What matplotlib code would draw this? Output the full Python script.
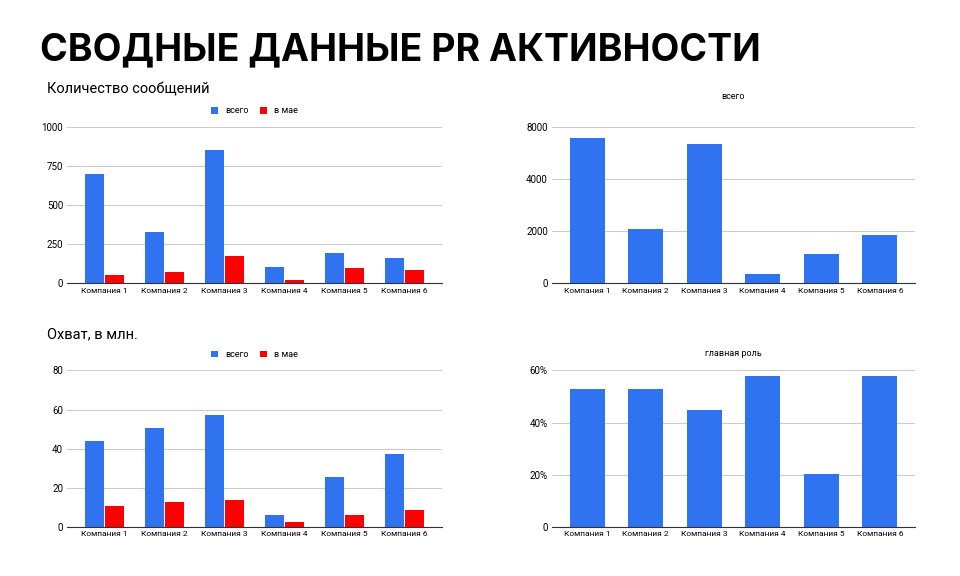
import matplotlib
matplotlib.use("Agg")
import matplotlib.pyplot as plt
import numpy as np

companies = ["Компания 1", "Компания 2", "Компания 3", "Компания 4", "Компания 5", "Компания 6"]
msg_total = [700, 331, 853, 102, 191, 159]
msg_may = [51, 70, 172, 19, 96, 83]
total_all = [5550, 2100, 5320, 370, 1130, 1870]
reach_total = [44.0, 50.8, 57.4, 6.4, 25.6, 37.4]
reach_may = [10.8, 12.8, 13.8, 2.6, 6.2, 8.7]
main_role = [53, 53, 45, 58, 20.4, 58]

BLUE = "#2f73f1"
RED = "#ff0000"
plt.rcParams["font.family"] = "Roboto"

fig = plt.figure(figsize=(9.6, 5.76), dpi=100)
fig.text(0.042, 0.912, "СВОДНЫЕ ДАННЫЕ PR АКТИВНОСТИ", fontsize=27, fontweight="bold", va="center", family="Inter")
fig.text(0.049, 0.845, "Количество сообщений", fontsize=10.5, va="center")
fig.text(0.049, 0.42, "Охват, в млн.", fontsize=10.5, va="center")

def style(ax, ylim, ticks, labels, xlim):
    ax.set_ylim(*ylim)
    ax.set_yticks(ticks)
    ax.set_yticklabels(labels, fontsize=7)
    ax.set_xticks(np.arange(6))
    ax.set_xticklabels(companies, fontsize=6)
    ax.set_xlim(*xlim)
    ax.tick_params(length=0, pad=3)
    for s in ["top", "right", "left"]:
        ax.spines[s].set_visible(False)
    ax.spines["bottom"].set_color("#333333")
    ax.grid(axis="y", color="#cccccc", lw=0.8)
    ax.set_axisbelow(True)

x = np.arange(6)
w = 0.31
# top left
ax1 = fig.add_axes([0.07, 0.508, 0.39, 0.272])
ax1.bar(x - w/2 - 0.01, msg_total, w, color=BLUE, label="всего")
ax1.bar(x + w/2 + 0.01, msg_may, w, color=RED, label="в мае")
style(ax1, (0, 1000), [0, 250, 500, 750, 1000], ["0", "250", "500", "750", "1000"], (-0.62, 5.62))
ax1.legend(loc="lower center", bbox_to_anchor=(0.5, 1.02), ncol=2, frameon=False, fontsize=6.5, handlelength=0.8, handleheight=0.8, columnspacing=1.2)

# top right
ax2 = fig.add_axes([0.575, 0.508, 0.378, 0.272])
ax2.bar(x, total_all, 0.6, color=BLUE)
style(ax2, (0, 6000), [0, 2000, 4000, 6000], ["0", "2000", "4000", "8000"], (-0.6, 5.6))
ax2.set_title("всего", fontsize=6.5, pad=20)

# bottom left
ax3 = fig.add_axes([0.07, 0.085, 0.39, 0.272])
ax3.bar(x - w/2 - 0.01, reach_total, w, color=BLUE, label="всего")
ax3.bar(x + w/2 + 0.01, reach_may, w, color=RED, label="в мае")
style(ax3, (0, 80), [0, 20, 40, 60, 80], ["0", "20", "40", "60", "80"], (-0.62, 5.62))
ax3.legend(loc="lower center", bbox_to_anchor=(0.5, 1.02), ncol=2, frameon=False, fontsize=6.5, handlelength=0.8, handleheight=0.8, columnspacing=1.2)

# bottom right
ax4 = fig.add_axes([0.575, 0.085, 0.378, 0.272])
ax4.bar(x, main_role, 0.6, color=BLUE)
style(ax4, (0, 60), [0, 20, 40, 60], ["0", "20%", "40%", "60%"], (-0.6, 5.6))
ax4.set_title("главная роль", fontsize=6.5, pad=10)

fig.savefig("out.png", dpi=100, facecolor="white")
